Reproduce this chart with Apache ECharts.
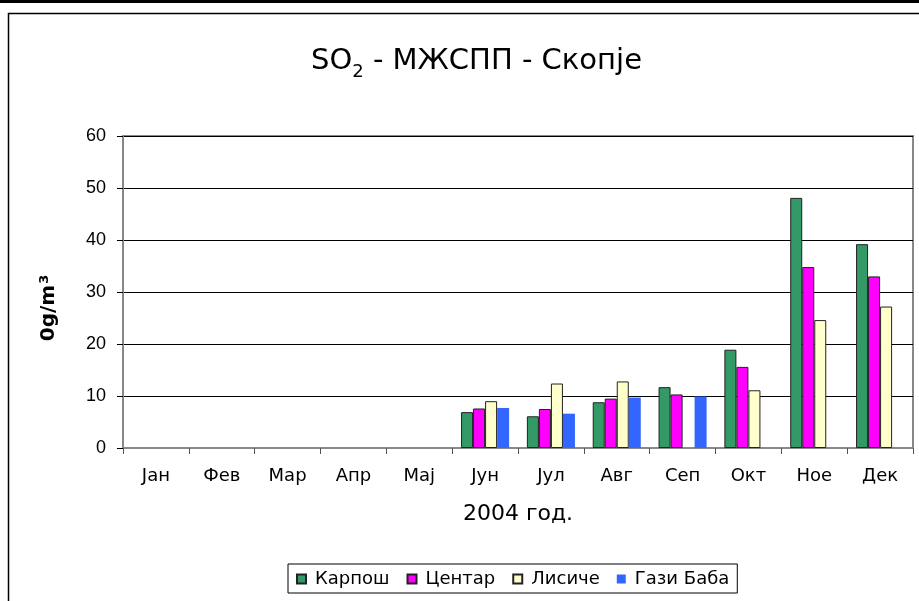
<!DOCTYPE html>
<html>
<head>
<meta charset="utf-8">
<title>SO2 - МЖСПП - Скопје</title>
<script src="https://cdn.jsdelivr.net/npm/echarts@6/dist/echarts.min.js"></script>
<style>
  html, body { margin: 0; padding: 0; background: #fff; }
  #chart { width: 919px; height: 601px; }
</style>
</head>
<body>
<div id="chart"></div>
<script>
// months of 2004
const months = ['Јан', 'Фев', 'Мар', 'Апр', 'Мај', 'Јун', 'Јул', 'Авг', 'Сеп', 'Окт', 'Ное', 'Дек'];
const yTicks = { min: 0, max: 60, step: 10 };

// monthly SO2 values per station (null = no data)
const karpos   = [null, null, null, null, null, 6.9, 6.1, 8.8, 11.7, 18.9, 48.1, 39.2];
const centar   = [null, null, null, null, null, 7.6, 7.5, 9.5, 10.3, 15.6, 34.8, 33.0];
const lisice   = [null, null, null, null, null, 9.0, 12.4, 12.8, null, 11.1, 24.6, 27.2];
const gaziBaba = [null, null, null, null, null, 7.7, 6.6, 9.7, 9.9, null, null, null];

const font = 'DejaVu Sans, sans-serif';
const numFont = 'Liberation Sans, Arial, sans-serif';

function bar(name, data, color, bordered) {
  return {
    name: name,
    type: 'bar',
    data: data,
    barGap: '0%',
    barCategoryGap: '27%',
    itemStyle: {
      color: color,
      borderColor: bordered ? '#222' : color,
      borderWidth: bordered ? 1 : 0
    }
  };
}

const chart = echarts.init(document.getElementById('chart'));
chart.setOption({
  animation: false,
  backgroundColor: '#fff',
  title: {
    text: '{a|SO}{b|2}{a| - МЖСПП - Скопје}',
    left: 306,
    top: 42,
    textStyle: {
      rich: {
        a: { fontFamily: font, fontSize: 29, color: '#000', fontWeight: 'normal', padding: [0, 0, 5, 0] },
        b: { fontFamily: font, fontSize: 18, color: '#000', fontWeight: 'normal', verticalAlign: 'bottom' }
      }
    }
  },
  grid: {
    left: 123, right: 6, top: 136, bottom: 153,
    show: true,
    borderColor: '#888',
    borderWidth: 2
  },
  legend: {
    left: 288,
    top: 564,
    itemWidth: 9,
    itemHeight: 9,
    itemGap: 17,
    icon: 'rect',
    padding: [6, 8, 5, 8],
    borderColor: '#000',
    borderWidth: 1,
    textStyle: { fontFamily: font, fontSize: 18, color: '#000', padding: [0, 0, 0, 4] }
  },
  xAxis: {
    type: 'category',
    data: months,
    name: '2004 год.',
    nameLocation: 'middle',
    nameGap: 55,
    nameTextStyle: { fontFamily: font, fontSize: 22, color: '#000' },
    axisLine: { lineStyle: { color: '#888', width: 2 } },
    axisTick: { show: true, length: 6, lineStyle: { color: '#555' } },
    axisLabel: { fontFamily: font, fontSize: 18, color: '#000', margin: 19 },
    splitLine: { show: false }
  },
  yAxis: {
    type: 'value',
    min: yTicks.min,
    max: yTicks.max,
    interval: yTicks.step,
    name: '{n|0g/m}{s|3}',
    nameLocation: 'middle',
    nameGap: 64,
    nameTextStyle: {
      rich: {
        n: { fontFamily: font, fontSize: 20, fontWeight: 'bold', color: '#000' },
        s: { fontFamily: font, fontSize: 13, fontWeight: 'bold', color: '#000', verticalAlign: 'top', padding: [0, 32, 8, 1] }
      }
    },
    axisLine: { show: true, lineStyle: { color: '#888', width: 2 } },
    axisTick: { show: true, length: 6, lineStyle: { color: '#000' } },
    axisLabel: { fontFamily: numFont, fontSize: 18, color: '#000', margin: 17 },
    splitLine: { lineStyle: { color: '#000', width: 1 } }
  },
  graphic: [
    { type: 'rect', shape: { x: 0, y: 0, width: 919, height: 3 }, style: { fill: '#000' }, silent: true },
    { type: 'polyline', shape: { points: [[8.5, 601], [8.5, 13.5], [919, 13.5]] }, style: { stroke: '#000', lineWidth: 1.5, fill: null }, silent: true }
  ],
  series: [
    bar('Карпош', karpos, '#339966', true),
    bar('Центар', centar, '#FF00FF', true),
    bar('Лисиче', lisice, '#FFFFCC', true),
    bar('Гази Баба', gaziBaba, '#3366FF', false)
  ]
});
</script>
</body>
</html>
